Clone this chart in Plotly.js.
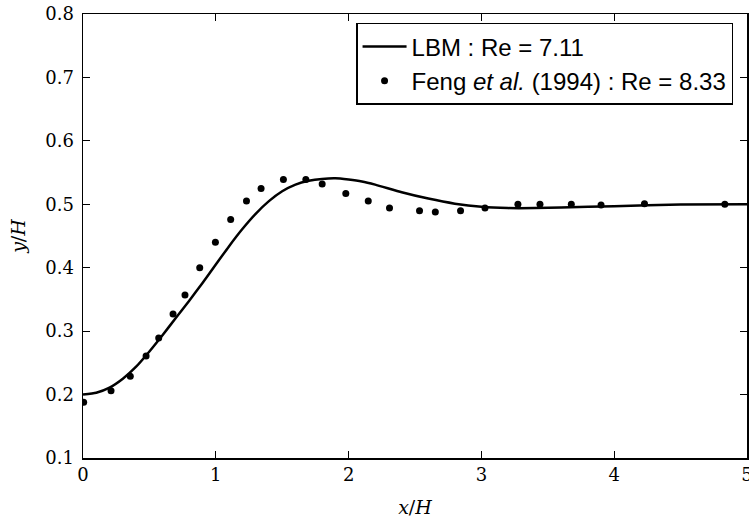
<!DOCTYPE html>
<html>
<head>
<meta charset="utf-8">
<script src="https://cdn.plot.ly/plotly-3.0.1.min.js"></script>
<style>html,body{margin:0;padding:0;background:#fff;}#chart{width:749px;height:521px;}</style>
</head>
<body>
<div id="chart"></div>
<script>
// LBM solution (Re = 7.11)
var lbmX = [0, 0.1, 0.2, 0.3, 0.4, 0.5, 0.6, 0.7, 0.8, 0.9, 1.0, 1.1, 1.2, 1.3, 1.4, 1.5, 1.6, 1.7, 1.8, 1.9, 2.0, 2.1, 2.2, 2.4, 2.6, 2.8, 3.0, 3.2, 3.4, 3.6, 4.0, 4.5, 5.0];
var lbmY = [0.200, 0.203, 0.211, 0.225, 0.244, 0.268, 0.294, 0.321, 0.348, 0.376, 0.405, 0.434, 0.461, 0.485, 0.505, 0.5205, 0.531, 0.537, 0.540, 0.541, 0.539, 0.536, 0.531, 0.519, 0.509, 0.501, 0.496, 0.494, 0.494, 0.495, 0.497, 0.4995, 0.500];
// Feng et al. (1994), Re = 8.33
var fengX = [0.005, 0.211, 0.356, 0.475, 0.570, 0.678, 0.768, 0.879, 0.997, 1.112, 1.231, 1.341, 1.509, 1.678, 1.801, 1.979, 2.148, 2.308, 2.534, 2.653, 2.843, 3.027, 3.275, 3.441, 3.677, 3.901, 4.228, 4.833];
var fengY = [0.188, 0.206, 0.229, 0.261, 0.289, 0.327, 0.357, 0.400, 0.440, 0.476, 0.505, 0.525, 0.539, 0.539, 0.532, 0.517, 0.505, 0.494, 0.490, 0.488, 0.490, 0.494, 0.500, 0.500, 0.500, 0.499, 0.501, 0.500];
var xTicks = [0, 1, 2, 3, 4, 5];
var yTicks = [0.1, 0.2, 0.3, 0.4, 0.5, 0.6, 0.7, 0.8];
var lbmName = 'LBM : Re = 7.11';
var fengName = 'Feng <i>et al.</i> (1994) : Re = 8.33';

var traces = [
  {x: lbmX, y: lbmY, type: 'scatter', mode: 'lines', name: lbmName, legendgroup: 'a',
   line: {color: '#000', width: 2.5, shape: 'spline', smoothing: 0.5}},
  {x: fengX, y: fengY, type: 'scatter', mode: 'markers', name: fengName, legendgroup: 'b',
   marker: {color: '#000', size: 7, symbol: 'circle'}}
];

var serif = 'DejaVu Serif, Liberation Serif, serif';
var axisCommon = {
  showgrid: false, zeroline: false, showline: true, linecolor: '#000', linewidth: 1.5,
  mirror: 'ticks', ticks: 'inside', ticklen: 7, tickwidth: 1.2, tickcolor: '#000',
  ticklabeloverflow: 'allow',
  tickfont: {family: serif, size: 18, color: '#000'}
};

var layout = {
  width: 749, height: 521,
  margin: {l: 83, r: 2, t: 14, b: 63},
  paper_bgcolor: '#fff', plot_bgcolor: '#fff',
  xaxis: Object.assign({}, axisCommon, {
    range: [0, 5], tickvals: xTicks, ticktext: xTicks.map(String),
    title: {text: '<i>x</i>/<i>H</i>', font: {family: serif, size: 19, color: '#000'}, standoff: 16}
  }),
  yaxis: Object.assign({}, axisCommon, {
    range: [0.1, 0.8], tickvals: yTicks, ticktext: yTicks.map(function(v){return v.toFixed(1);}),
    ticklabelstandoff: 4,
    title: {text: '<i>y</i>/<i>H</i>', font: {family: serif, size: 19, color: '#000'}, standoff: 14}
  }),
  showlegend: true,
  legend: {
    x: 0.979, xanchor: 'right', y: 0.98, yanchor: 'top',
    bgcolor: '#fff', bordercolor: '#000', borderwidth: 1.5,
    font: {family: 'Liberation Sans, Arial, sans-serif', size: 24, color: '#000'},
    itemwidth: 44, traceorder: 'grouped', tracegroupgap: 0
  }
};

Plotly.newPlot('chart', traces, layout, {displayModeBar: false, staticPlot: true});
</script>
</body>
</html>
